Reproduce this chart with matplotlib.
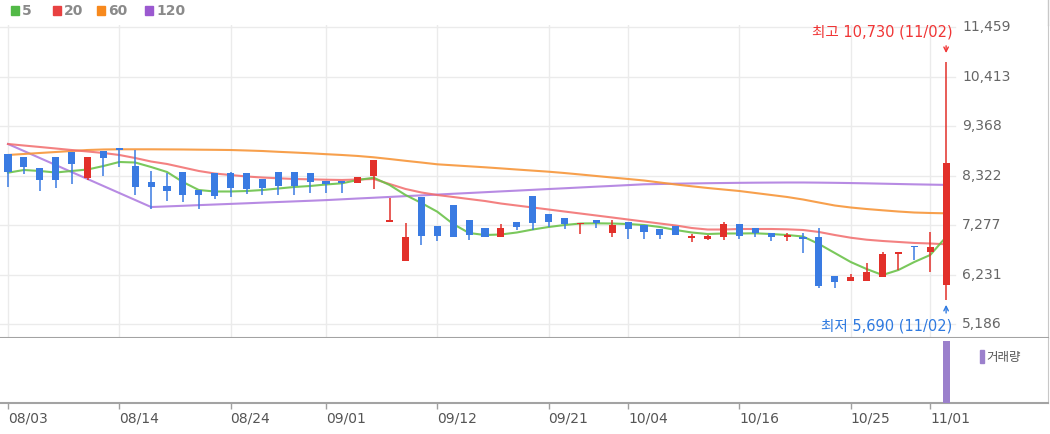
import matplotlib.pyplot as plt
from matplotlib.lines import Line2D
from matplotlib.patches import Rectangle

# trading days 2023-08-03 .. 2023-11-02
dates = ['08/03', '08/04', '08/07', '08/08', '08/09', '08/10', '08/11', '08/14', '08/16', '08/17',
         '08/18', '08/21', '08/22', '08/23', '08/24', '08/25', '08/28', '08/29', '08/30', '08/31',
         '09/01', '09/04', '09/05', '09/06', '09/07', '09/08', '09/11', '09/12', '09/13', '09/14',
         '09/15', '09/18', '09/19', '09/20', '09/21', '09/22', '09/25', '09/26', '09/27', '10/04',
         '10/05', '10/06', '10/10', '10/11', '10/12', '10/13', '10/16', '10/17', '10/18', '10/19',
         '10/20', '10/23', '10/24', '10/25', '10/26', '10/27', '10/30', '10/31', '11/01', '11/02']

opens = [8777, 8720, 8487, 8720, 8813, 8276, 8846, 8897, 8523, 8179,
         8107, 8403, 8016, 8369, 8369, 8369, 8242, 8403, 8403, 8369,
         8207, 8207, 8158, 8312, 7347, 6517, 7875, 7256, 7700, 7383,
         7220, 7017, 7347, 7890, 7510, 7419, 7290, 7383, 7115, 7347,
         7277, 7193, 7256, 7000, 6988, 7017, 7292, 7220, 7102, 7025,
         7030, 7030, 6206, 6095, 6095, 6185, 6670, 6819, 6701, 6010]
highs = [8777, 8720, 8487, 8720, 8813, 8720, 8846, 8897, 8861, 8424,
         8382, 8403, 8016, 8369, 8403, 8369, 8242, 8403, 8403, 8369,
         8207, 8207, 8297, 8650, 7841, 7326, 7875, 7256, 7700, 7383,
         7220, 7292, 7347, 7890, 7510, 7419, 7298, 7383, 7383, 7347,
         7277, 7193, 7256, 7081, 7074, 7347, 7292, 7220, 7102, 7102,
         7108, 7220, 6206, 6236, 6468, 6713, 6679, 6819, 7123, 10730]
lows = [8086, 8348, 7995, 8065, 8137, 8228, 8312, 8509, 7911, 7609,
        7784, 7769, 7615, 7833, 7875, 7932, 7911, 7911, 7911, 7947,
        7947, 7959, 8158, 8031, 7347, 6517, 6855, 6946, 7017, 6960,
        7017, 7017, 7172, 7172, 7229, 7199, 7087, 7208, 7017, 6982,
        6982, 6982, 7066, 6924, 6960, 6960, 6982, 7017, 6946, 6946,
        6692, 5940, 5940, 6095, 6095, 6185, 6327, 6538, 6291, 5690]
closes = [8403, 8496, 8228, 8228, 8566, 8720, 8699, 8870, 8086, 8086,
          7995, 7911, 7911, 7890, 8052, 8031, 8065, 8101, 8101, 8192,
          8137, 8158, 8297, 8650, 7360, 7030, 7045, 7045, 7030, 7066,
          7017, 7220, 7229, 7326, 7334, 7292, 7298, 7326, 7277, 7186,
          7136, 7066, 7066, 7009, 7045, 7292, 7051, 7102, 7030, 7030,
          6982, 5989, 6067, 6185, 6278, 6665, 6679, 6805, 6819, 8580]

ma5 = [8382, 8439, 8418, 8386, 8418, 8449, 8523, 8608, 8597, 8502,
       8397, 8185, 8016, 7985, 7985, 7995, 8016, 8048, 8080, 8101,
       8133, 8158, 8228, 8276, 8122, 7911, 7742, 7558, 7298, 7108,
       7066, 7077, 7119, 7182, 7235, 7277, 7309, 7313, 7309, 7298,
       7277, 7235, 7172, 7119, 7087, 7098, 7098, 7102, 7087, 7066,
       7034, 6876, 6686, 6496, 6348, 6221, 6327, 6496, 6644, 7024]
ma20 = [8988, 8956, 8925, 8893, 8861, 8830, 8798, 8756, 8692, 8618,
        8566, 8492, 8418, 8365, 8333, 8302, 8280, 8264, 8249, 8242,
        8234, 8228, 8238, 8249, 8143, 8038, 7964, 7911, 7869, 7826,
        7784, 7731, 7689, 7647, 7605, 7562, 7520, 7478, 7436, 7393,
        7351, 7309, 7267, 7214, 7182, 7182, 7193, 7193, 7193, 7186,
        7172, 7130, 7066, 7009, 6967, 6940, 6919, 6898, 6887, 6870]
ma60 = [8756, 8777, 8798, 8819, 8840, 8861, 8872, 8876, 8876, 8876,
        8874, 8872, 8868, 8865, 8861, 8851, 8840, 8823, 8808, 8792,
        8773, 8756, 8735, 8707, 8671, 8633, 8597, 8559, 8538, 8517,
        8496, 8473, 8449, 8426, 8403, 8375, 8344, 8312, 8280, 8249,
        8217, 8175, 8133, 8095, 8059, 8027, 7995, 7953, 7911, 7869,
        7816, 7752, 7689, 7647, 7615, 7588, 7562, 7541, 7531, 7524]
ma120 = [8988, 8840, 8692, 8544, 8396, 8249, 8101, 7953, 7805, 7657,
         7670, 7683, 7697, 7710, 7723, 7736, 7750, 7763, 7776, 7789,
         7803, 7820, 7837, 7853, 7870, 7887, 7903, 7920, 7937, 7953,
         7970, 7987, 8003, 8020, 8037, 8053, 8070, 8087, 8103, 8120,
         8137, 8143, 8150, 8155, 8160, 8164, 8168, 8171, 8173, 8175,
         8175, 8172, 8168, 8163, 8157, 8150, 8143, 8136, 8130, 8124]

# thousand shares; only the last day is tall enough to show
volumes = [12, 9, 10, 7, 8, 13, 9, 10, 15, 12,
           8, 10, 7, 8, 7, 6, 5, 7, 6, 5,
           5, 5, 7, 20, 30, 38, 26, 13, 18, 10,
           7, 6, 5, 15, 7, 5, 4, 3, 5, 5,
           4, 3, 4, 3, 3, 6, 4, 3, 3, 3,
           4, 22, 10, 5, 7, 11, 6, 5, 10, 14500]

price_ticks = [5186, 6231, 7277, 8322, 9368, 10413, 11459]
tick_dates = ['08/03', '08/14', '08/24', '09/01', '09/12', '09/21', '10/04', '10/16', '10/25', '11/01']

RED = '#e2302a'
BLUE = '#3a7be2'
GRID = '#ebebeb'
FRAME = '#a3a3a3'
KFONT = ['DejaVu Sans', 'Noto Sans CJK KR']

W, H = 1050, 434


def fx(px):
    return px / W


def fy(py):
    return 1 - py / H


fig = plt.figure(figsize=(W / 100, H / 100), dpi=100)
ax = fig.add_axes([0, fy(338), fx(1048), fy(25) - fy(338)])
axv = fig.add_axes([0, fy(403), fx(1048), fy(338) - fy(403)], sharex=ax)

step = 15.9  # pixels per trading day
x = list(range(len(dates)))
tick_idx = [dates.index(d) for d in tick_dates]

ax.set_xlim(-8 / step, (1048 - 8) / step)
ax.set_ylim(4891, 11501)

# grid
for p in price_ticks:
    ax.axhline(p, xmin=0, xmax=955 / 1048, color=GRID, lw=1, zorder=0)
for t in tick_idx:
    ax.axvline(t, color=GRID, lw=1, zorder=0)

# moving averages
ax.plot(x, ma120, color='#b07ee0', lw=1.5, alpha=0.9, zorder=2)
ax.plot(x, ma60, color='#f7963a', lw=1.5, alpha=0.9, zorder=2)
ax.plot(x, ma20, color='#f26b6b', lw=1.5, alpha=0.85, zorder=2)
ax.plot(x, ma5, color='#6cc24a', lw=1.5, alpha=0.9, zorder=2)

# candles
cols = [RED if c >= o else BLUE for o, c in zip(opens, closes)]
bottoms = [min(o, c) for o, c in zip(opens, closes)]
heights = [max(abs(c - o), 35) for o, c in zip(opens, closes)]
ax.vlines(x, lows, highs, colors=cols, lw=1.1, zorder=3)
ax.bar(x, heights, bottom=bottoms, width=0.45, color=cols, zorder=4)

# right price labels
for p in price_ticks:
    ax.text(962 / 1048, p, f'{p:,}', transform=ax.get_yaxis_transform(),
            ha='left', va='center', color='#666666', fontsize=10)

# high / low annotations
hi_i = highs.index(max(highs))
lo_i = lows.index(min(lows))
ax.text(hi_i + 0.4, 11353, f'최고 {max(highs):,} ({dates[hi_i]})', ha='right', va='center',
        color='#f03535', fontsize=10.5, family=KFONT)
ax.annotate('', xy=(hi_i, 10850), xytext=(hi_i, 11120),
            arrowprops=dict(arrowstyle='->', color='#f03535', lw=1, mutation_scale=8))
ax.text(lo_i + 0.4, 5144, f'최저 {min(lows):,} ({dates[lo_i]})', ha='right', va='center',
        color='#2f7ae0', fontsize=10.5, family=KFONT)
ax.annotate('', xy=(lo_i, 5650), xytext=(lo_i, 5360),
            arrowprops=dict(arrowstyle='->', color='#2f7ae0', lw=1, mutation_scale=8))

for s in ['top', 'left']:
    ax.spines[s].set_visible(False)
ax.spines['bottom'].set_color(FRAME)
ax.spines['bottom'].set_linewidth(1.5)
ax.spines['right'].set_color('#c8c8c8')
ax.tick_params(left=False, right=False, bottom=False, labelbottom=False, labelleft=False)

# volume panel
axv.bar(x, volumes, width=0.45, color='#9b80cc', zorder=3)
axv.set_ylim(0, max(volumes) / 0.955)
axv.set_yticks([])
axv.set_xticks(tick_idx)
axv.set_xticklabels(tick_dates, ha='left')
axv.tick_params(axis='x', length=4.3, width=1, color='#a0a0a0', labelcolor='#555555',
                labelsize=10, pad=2)
axv.spines['top'].set_visible(False)
axv.spines['left'].set_visible(False)
axv.spines['bottom'].set_color(FRAME)
axv.spines['bottom'].set_linewidth(1.5)
axv.spines['right'].set_color('#c8c8c8')
fig.add_artist(Rectangle((fx(980), fy(363)), fx(4), fy(350) - fy(363), color='#9b80cc'))
fig.text(fx(986), fy(357), '거래량', ha='left', va='center', color='#555555',
         fontsize=9, family=['Noto Sans CJK KR', 'DejaVu Sans'])

# legend
legend = [('5', '#52b947', 11), ('20', '#e84141', 53), ('60', '#f7891d', 97), ('120', '#9b59d0', 145)]
for lab, col, px in legend:
    fig.add_artist(Rectangle((fx(px), fy(15)), fx(8), fy(6) - fy(15), color=col))
    fig.text(fx(px + 11), fy(11), lab, ha='left', va='center', color='#8a8a8a',
             fontsize=10, fontweight='bold')

fig.add_artist(Line2D([fx(1047.5)] * 2, [fy(0), fy(25)], color='#c8c8c8', lw=1))

fig.savefig('out.png', dpi=100)
